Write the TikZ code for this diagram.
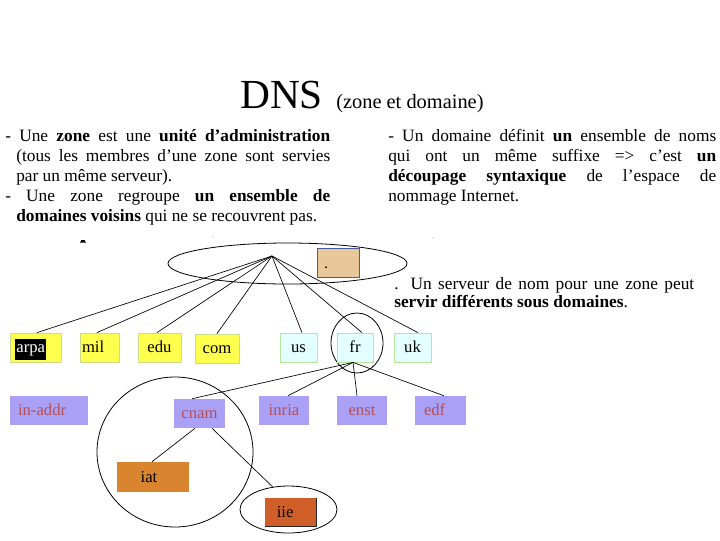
\documentclass[tikz,border=0pt]{standalone}
\usepackage{fontspec}
\setmainfont{Liberation Serif}
\usetikzlibrary{shapes.geometric,calc}
\definecolor{yfill}{HTML}{FFFF4D}
\definecolor{yborder}{HTML}{C8DC8C}
\definecolor{cfill}{HTML}{E4FFFF}
\definecolor{cborder}{HTML}{B4E69B}
\definecolor{pfill}{HTML}{AAA0F5}
\definecolor{ptext}{HTML}{B4505A}
\definecolor{iatfill}{HTML}{D9842F}
\definecolor{iiefill}{HTML}{CF5E28}
\definecolor{tanfill}{HTML}{E8C79A}
\definecolor{tanborder}{HTML}{4A5AA0}
\begin{document}
\begin{tikzpicture}[x=0.75pt,y=-0.75pt,
  box/.style={inner sep=0pt, minimum height=21.75pt, text height=9.5pt, text depth=1.5pt, font=\fontsize{12.5}{14}\selectfont},
  ybox/.style={box, fill=yfill, draw=yborder, line width=0.6pt},
  cbox/.style={box, fill=cfill, draw=cborder, line width=0.6pt},
  pbox/.style={box, fill=pfill, text=ptext},
  link/.style={draw=black, line width=0.5pt},
  zoneline/.style={draw=black, line width=0.6pt, ellipse, inner sep=0pt},
  para/.style={inner sep=0pt, anchor=base west}]
\fill[white] (0,0) rectangle (720,540);
\useasboundingbox (0,0) rectangle (720,540);

% title
\node[para] (title) at (240,108) {\fontsize{31}{31}\selectfont DNS};
\node[para] (subtitle) at (336,108) {\fontsize{15.3}{17}\selectfont (zone et domaine)};

% left text
\node[para] (lefttext) at (5,141) {\parbox[t]{243.75pt}{\fontsize{13}{15}\selectfont\tolerance=10000
\hangindent=8.25pt \hangafter=1 - Une \textbf{zone} est une \textbf{unité d’administration}\linebreak (tous les membres d’une zone sont servies\linebreak par un même serveur).\par
\hangindent=8.25pt \hangafter=1 - Une zone regroupe \textbf{un ensemble de}\linebreak \textbf{domaines voisins} qui ne se recouvrent pas.}};

% right text
\node[para] (righttext) at (388,141) {\parbox[t]{246pt}{\fontsize{13}{15}\selectfont\tolerance=10000
- Un domaine définit \textbf{un} ensemble de noms\linebreak qui ont un même suffixe => c’est \textbf{un}\linebreak \textbf{découpage syntaxique} de l’espace de\linebreak nommage Internet.}};

% note
\node[para] (note) at (394,289) {\parbox[t]{225pt}{\fontsize{13}{13.5}\selectfont\tolerance=10000
. Un serveur de nom pour une zone peut\linebreak \textbf{servir différents sous domaines}.}};

% small marks
\fill[black] (80,242.6) -- (81.5,240) -- (84.5,240) -- (86,242.6) -- cycle;
\fill[black!35] (213,237) circle (0.7);
\fill[black!35] (433,238) circle (0.7);

% zones
\node[zoneline, minimum width=179.25pt, minimum height=30.75pt] (zone) at (287.5,263.5) {};
\node[zoneline, minimum width=39pt, minimum height=45pt] (frzone) at (357,343) {};
\node[zoneline, minimum width=117pt, minimum height=112.5pt] (cnamzone) at (175,452) {};
\node[zoneline, minimum width=72.75pt, minimum height=35.25pt] (iiezone) at (288.5,509.5) {};

% tan server box
\node[draw=tanborder, fill=tanfill, line width=0.6pt, inner sep=0pt, minimum width=31.5pt, minimum height=21.75pt] (tanbox) at (338,262.5) {};
\node[inner sep=0pt, anchor=base, font=\fontsize{12}{14}\selectfont] (tandot) at (326,268) {.};

% first level
\node[ybox, minimum width=38.25pt, text width=30.25pt, inner xsep=4pt, align=left] (arpa) at (35.5,347.5) {\setlength\fboxsep{0.8pt}\colorbox{black}{\strut\textcolor{white}{arpa}}};
\node[ybox, minimum width=27.75pt, text width=26.25pt, inner xsep=1.5pt, align=left] (mil) at (99.5,347.5) {mil};
\node[ybox, minimum width=32.25pt] (edu) at (159.5,347.5) {edu};
\node[ybox, minimum width=33pt] (com) at (217,348.5) {com};
\node[cbox, minimum width=27.75pt] (us) at (298.5,347.5) {us};
\node[cbox, minimum width=27pt] (fr) at (355,347.5) {fr};
\node[cbox, minimum width=27.75pt] (uk) at (412.5,347.5) {uk};

% second level
\node[pbox, minimum width=58.5pt, text width=46.5pt, inner xsep=6pt, align=left] (inaddr) at (49,410.5) {in-addr};
\node[pbox, minimum width=38.25pt] (cnam) at (199.5,413.5) {cnam};
\node[pbox, minimum width=37.5pt] (inria) at (284,410.5) {inria};
\node[pbox, minimum width=37.5pt] (enst) at (362,410.5) {enst};
\node[pbox, minimum width=38.25pt, text width=24.75pt, inner xsep=6.75pt, align=left] (edf) at (440.5,410.5) {edf};

% third level
\node[box, fill=iatfill, minimum width=54pt, minimum height=22.5pt] (iat) at (153,477) {iat\hspace*{6pt}};
\node[box, fill=iiefill, minimum width=38.25pt, minimum height=21pt] (iie) at (290.5,512) {iie\hspace*{8pt}};
\draw[line width=0.8pt, black!85] (iie.north east) -- (iie.south east) -- (iie.south west);

% connectors from the zone hub
\coordinate (hub) at (272,256);
\draw[link] (hub) -- ([xshift=1.1pt]arpa.north);
\draw[link] (hub) -- ([xshift=-1.9pt]mil.north);
\draw[link] (hub) -- ([xshift=-1.9pt]edu.north);
\draw[link] (hub) -- (com.north);
\draw[link] (hub) -- ([xshift=2.6pt]us.north);
\draw[link] (hub) -- ([xshift=5.2pt]fr.north);
\draw[link] (hub) -- ([xshift=4.1pt]uk.north);

% connectors from fr
\coordinate (frhub) at ([xshift=-1.5pt]fr.south);
\draw[link] (frhub) -- ([xshift=-5.6pt]cnam.north);
\draw[link] (frhub) -- ([xshift=3pt]inria.north);
\draw[link] (frhub) -- ([xshift=-3.75pt]enst.north);
\draw[link] (frhub) -- ([xshift=2.6pt]edf.north);

% connectors from cnam
\draw[link] ([xshift=-3.4pt]cnam.south) -- ([xshift=-0.75pt]iat.north);
\draw[link] ([xshift=9.4pt]cnam.south) -- (iiezone.125);
\end{tikzpicture}
\end{document}
